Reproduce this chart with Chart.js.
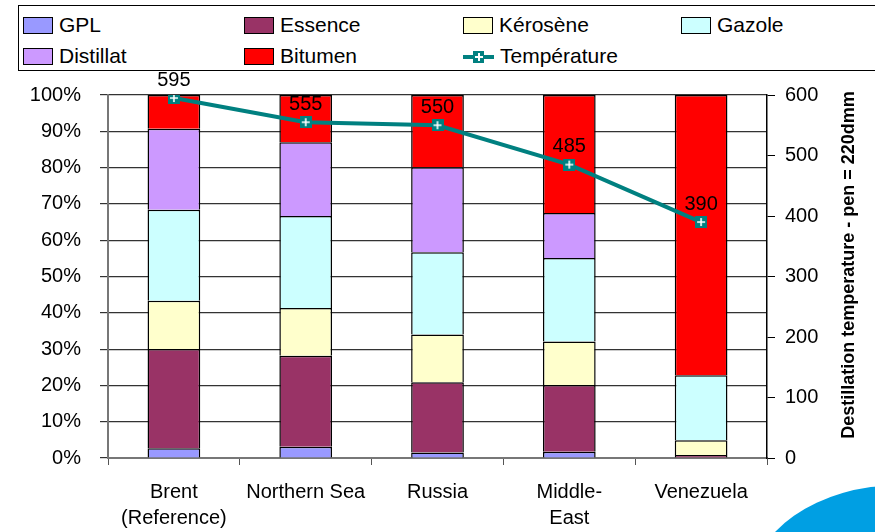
<!DOCTYPE html>
<html>
<head>
<meta charset="utf-8">
<script src="https://cdn.jsdelivr.net/npm/chart.js@4"></script>
<style>
  body { margin: 0; background: #fff; font-family: "Liberation Sans", Arial, sans-serif; }
  #wrap { position: relative; width: 875px; height: 532px; overflow: hidden; }
  #legend { position: absolute; left: 18px; top: 5px; width: 900px; height: 66px; border: 1px solid #000; box-sizing: border-box; background: #fff; }
  .item { position: absolute; font-size: 21px; line-height: 22px; white-space: nowrap; }
  .sw { display: inline-block; width: 28px; height: 15px; border: 1.5px solid #000; vertical-align: -2px; margin-right: 6px; }
  #blob { position: absolute; left: 750px; top: 485px; width: 300px; height: 210px; border-radius: 50%; background: #009fe3; }
</style>
</head>
<body>
<div id="wrap">
  <canvas id="myChart" width="875" height="532"></canvas>
  <div id="legend"></div>
  <div id="blob"></div>
</div>
<script>
const categories = [["Brent", "(Reference)"], "Northern Sea", "Russia", ["Middle-", "East"], "Venezuela"];

const gpl = [2.7, 3.1, 1.5, 1.7, 0];
const essence = [27.3, 25.1, 19.4, 18.4, 0.8];
const kerosene = [13.3, 13.1, 13.1, 12.0, 4.1];
const gazole = [25.1, 25.4, 22.7, 23.0, 17.9];
const distillat = [22.3, 20.3, 23.4, 12.4, 0];
const bitumen = [9.3, 13.0, 19.9, 32.5, 77.2];
const temperature = [595, 555, 550, 485, 390];

const leftTicks = [0, 10, 20, 30, 40, 50, 60, 70, 80, 90, 100];
const rightTicks = [0, 100, 200, 300, 400, 500, 600];
const rightTitle = "Destillation temperature - pen = 220dmm";

// square teal marker with a white cross
function makeMarker() {
  const c = document.createElement("canvas");
  c.width = 12;
  c.height = 12;
  const g = c.getContext("2d");
  g.fillStyle = "#008080";
  g.fillRect(0, 0, 12, 12);
  g.strokeStyle = "#fff";
  g.lineWidth = 1.6;
  g.beginPath();
  g.moveTo(6, 2); g.lineTo(6, 10);
  g.moveTo(2, 6); g.lineTo(10, 6);
  g.stroke();
  return c;
}
const marker = makeMarker();

const barSets = [
  { label: "GPL", data: gpl, color: "#9999ff" },
  { label: "Essence", data: essence, color: "#993366" },
  { label: "Kérosène", data: kerosene, color: "#ffffcc" },
  { label: "Gazole", data: gazole, color: "#ccffff" },
  { label: "Distillat", data: distillat, color: "#cc99ff" },
  { label: "Bitumen", data: bitumen, color: "#ff0000" },
];

const datasets = [
  {
    type: "line",
    label: "Température",
    data: temperature,
    yAxisID: "y1",
    borderColor: "#008080",
    borderWidth: 4,
    pointStyle: marker,
    order: 0,
  },
];
barSets.forEach((s) => {
  datasets.push({
    type: "bar",
    label: s.label,
    data: s.data,
    backgroundColor: s.color,
    borderColor: "#000",
    borderWidth: 1.5,
    yAxisID: "y",
    stack: "a",
    order: 1,
    barPercentage: 0.4,
    categoryPercentage: 1,
  });
});

// html legend in 4 columns
const legendPos = [
  ["GPL", 4, 8], ["Essence", 225, 8], ["Kérosène", 444, 8], ["Gazole", 662, 8],
  ["Distillat", 4, 39], ["Bitumen", 225, 39], ["Température", 444, 39],
];
const legend = document.getElementById("legend");
legendPos.forEach(([name, x, y]) => {
  const d = document.createElement("div");
  d.className = "item";
  d.style.left = x + "px";
  d.style.top = y + "px";
  const bs = barSets.find((s) => s.label === name);
  if (bs) {
    d.innerHTML = `<span class="sw" style="background:${bs.color}"></span>${name}`;
  } else {
    d.innerHTML = `<span style="display:inline-block;position:relative;width:31px;height:15px;vertical-align:-2px;margin-right:6px">
      <span style="position:absolute;left:0;top:5px;width:31px;height:4px;background:#008080"></span>
      <span style="position:absolute;left:10px;top:1px;width:11px;height:12px;background:#008080"></span>
      <span style="position:absolute;left:15px;top:3px;width:2px;height:8px;background:#fff"></span>
      <span style="position:absolute;left:12px;top:6px;width:8px;height:2px;background:#fff"></span>
    </span>${name}`;
  }
  legend.appendChild(d);
});

const tempLabels = {
  id: "tempLabels",
  afterDatasetsDraw(chart) {
    const ctx = chart.ctx;
    const meta = chart.getDatasetMeta(0);
    ctx.save();
    ctx.font = "20px 'Liberation Sans', Arial, sans-serif";
    ctx.fillStyle = "#000";
    ctx.textAlign = "center";
    ctx.textBaseline = "bottom";
    meta.data.forEach((p, i) => {
      ctx.fillText(String(temperature[i]), p.x, p.y - 8);
    });
    ctx.restore();
  },
};

// right axis title, reading bottom to top
const rightTitlePlugin = {
  id: "rightTitle",
  afterDraw(chart) {
    const ctx = chart.ctx;
    ctx.save();
    ctx.translate(849, 265);
    ctx.rotate(-Math.PI / 2);
    ctx.font = "bold 18px 'Liberation Sans', Arial, sans-serif";
    ctx.fillStyle = "#000";
    ctx.textAlign = "center";
    ctx.textBaseline = "middle";
    ctx.fillText(rightTitle, 0, 0);
    ctx.restore();
  },
};

const font = { family: "'Liberation Sans', Arial, sans-serif", size: 20, lineHeight: 1.3 };

new Chart(document.getElementById("myChart").getContext("2d"), {
  data: { labels: categories, datasets: datasets },
  options: {
    responsive: false,
    animation: false,
    layout: { padding: { top: 95, left: 0, right: 0, bottom: 0 } },
    plugins: { legend: { display: false }, tooltip: { enabled: false } },
    scales: {
      x: {
        stacked: true,
        offset: true,
        grid: { display: true, drawOnChartArea: false, offset: true, color: "#555", tickLength: 7 },
        border: { color: "#777", width: 2 },
        ticks: { color: "#000", font: font, padding: 14 },
        afterFit: (s) => { s.height = 74; },
      },
      y: {
        stacked: true,
        min: 0,
        max: 100,
        afterBuildTicks: (s) => { s.ticks = leftTicks.map((v) => ({ value: v })); },
        ticks: { color: "#000", font: font, padding: 19, callback: (v) => v + "%" },
        grid: { color: "#333", lineWidth: 1.2, tickLength: 8 },
        border: { color: "#777", width: 2 },
        afterFit: (s) => { s.width = 108; },
      },
      y1: {
        position: "right",
        min: 0,
        max: 600,
        afterBuildTicks: (s) => { s.ticks = rightTicks.map((v) => ({ value: v })); },
        ticks: { color: "#000", font: font, padding: 10 },
        grid: { drawOnChartArea: false, color: "#000", tickLength: 8 },
        border: { color: "#000", width: 1.5 },
        afterFit: (s) => { s.width = 108; },
      },
    },
  },
  plugins: [tempLabels, rightTitlePlugin],
});
</script>
</body>
</html>
